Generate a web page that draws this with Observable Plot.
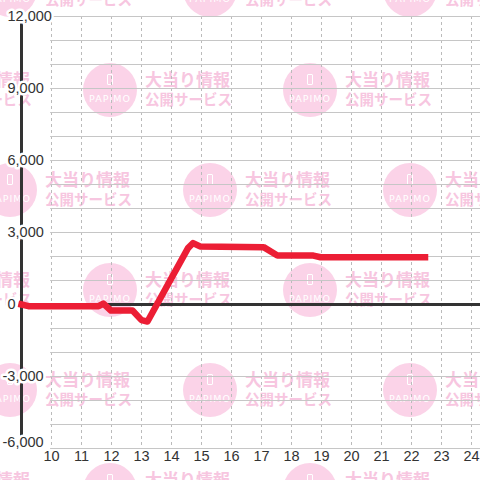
<!DOCTYPE html>
<html>
<head>
<meta charset="utf-8">
<script src="https://cdn.jsdelivr.net/npm/d3@7"></script>
<script src="https://cdn.jsdelivr.net/npm/@observablehq/plot@0.6"></script>
<style>
  body { margin: 0; background: #fff; }
  #wrap { position: relative; width: 480px; height: 480px; overflow: hidden; }
  #wm { position: absolute; left: 0; top: 0; width: 480px; height: 480px; }
  .circ { position: absolute; width: 54px; height: 54px; border-radius: 50%; background: #fbd3e8; }
  .phone { position: absolute; left: 24px; top: 11px; width: 4px; height: 9px; border: 1.3px solid #fff; border-radius: 1px; }
  .pap { position: absolute; left: 0; top: 31px; width: 54px; text-align: center; color: #fff; font: 9.5px "DejaVu Sans", sans-serif; letter-spacing: 1px; line-height: 10px; }
  .t1, .t2 { position: absolute; color: #f7c6e0; font-family: "Noto Sans CJK JP", sans-serif; font-weight: bold; white-space: nowrap; }
  .t1 { font-size: 17px; line-height: 17px; }
  .t2 { font-size: 14.5px; line-height: 15px; }
  #chart { position: absolute; left: 0; top: 0; }
</style>
</head>
<body>
<div id="wrap"><div id="wm"></div><div id="chart"></div></div>
<script>
// Data (hour of day, cumulative value)
const hours  = [9.0, 9.23, 11.57, 11.73, 11.98, 12.7, 13.0, 13.2, 14.55, 14.72, 14.95, 17.07, 17.53, 18.73, 18.97, 22.45];
const values = [0,   -70,  -70,   40,    -250,  -250, -650, -710, 2350,  2560,  2420,  2390,  2040,  2040,  1970,  1970];

const xTicks = [10, 11, 12, 13, 14, 15, 16, 17, 18, 19, 20, 21, 22, 23, 24];
const yTicks = [-6000, -3000, 0, 3000, 6000, 9000, 12000];
const yGrid  = [-6000, -5000, -4000, -3000, -2000, -1000, 1000, 2000, 3000, 4000, 5000, 6000, 7000, 8000, 9000, 10000, 11000, 12000];
const xDomain = [9, 24.3];
const yDomain = [-6000, 12000];
const gridStart = 9.97;

// Background watermark (decoration)
const wm = document.getElementById("wm");
for (let r = 0; r < 6; r++) {
  const cy = -10 + r * 100;
  const xs = r % 2 === 0 ? [10, 210, 410] : [-90, 110, 310];
  for (const cx of xs) {
    const c = document.createElement("div");
    c.className = "circ";
    c.style.left = (cx - 27) + "px"; c.style.top = (cy - 27) + "px";
    c.innerHTML = '<div class="phone"></div><div class="pap">PAPIMO</div>';
    wm.appendChild(c);
    const t1 = document.createElement("div");
    t1.className = "t1"; t1.textContent = "大当り情報";
    t1.style.left = (cx + 35) + "px"; t1.style.top = (cy - 20) + "px";
    wm.appendChild(t1);
    const t2 = document.createElement("div");
    t2.className = "t2"; t2.textContent = "公開サービス";
    t2.style.left = (cx + 35) + "px"; t2.style.top = (cy + 1) + "px";
    wm.appendChild(t2);
  }
}

const data = hours.map((h, i) => ({h, v: values[i]}));
const fmt = n => n.toLocaleString("en-US");
const font = '"Liberation Sans", Arial, sans-serif';
const labelStyle = {textAnchor: "start", fill: "#333", fontSize: 14.5, stroke: "white", strokeWidth: 5, paintOrder: "stroke"};

const chart = Plot.plot({
  width: 480,
  height: 480,
  marginLeft: 21,
  marginRight: 0,
  marginTop: 16,
  marginBottom: 32,
  x: {domain: xDomain, axis: null},
  y: {domain: yDomain, axis: null},
  style: {background: "transparent", fontFamily: font, fontSize: "14px", color: "#333", overflow: "visible"},
  marks: [
    Plot.ruleX(xTicks, {x: d => d, stroke: "#bbbbbb", strokeWidth: 1, strokeDasharray: "3,3"}),
    Plot.ruleY(yGrid, {y: d => d, x1: gridStart, x2: xDomain[1], stroke: "#c6c6c6", strokeWidth: 1}),
    Plot.ruleY([0], {y: d => d, x1: xDomain[0], x2: xDomain[1], stroke: "#333", strokeWidth: 3}),
    Plot.ruleX([xDomain[0]], {x: d => d, stroke: "#333", strokeWidth: 3}),
    Plot.line(data, {x: "h", y: "v", stroke: "#ec1e35", strokeWidth: 6.5, strokeLinejoin: "round", strokeLinecap: "square"}),
    Plot.text(yTicks.filter(d => d >= 0), {y: d => d, text: fmt, frameAnchor: "left", dx: -14, ...labelStyle}),
    Plot.text(yTicks.filter(d => d < 0 && d > yDomain[0]), {y: d => d, text: fmt, frameAnchor: "left", dx: -19, ...labelStyle}),
    Plot.text(yTicks.filter(d => d === yDomain[0]), {y: d => d, text: fmt, frameAnchor: "left", dx: -19, dy: -6, ...labelStyle}),
    Plot.text(xTicks, {x: d => d, text: d => String(d), frameAnchor: "bottom", dy: 12, fill: "#333", fontSize: 14.5})
  ]
});
document.getElementById("chart").appendChild(chart);
</script>
</body>
</html>
